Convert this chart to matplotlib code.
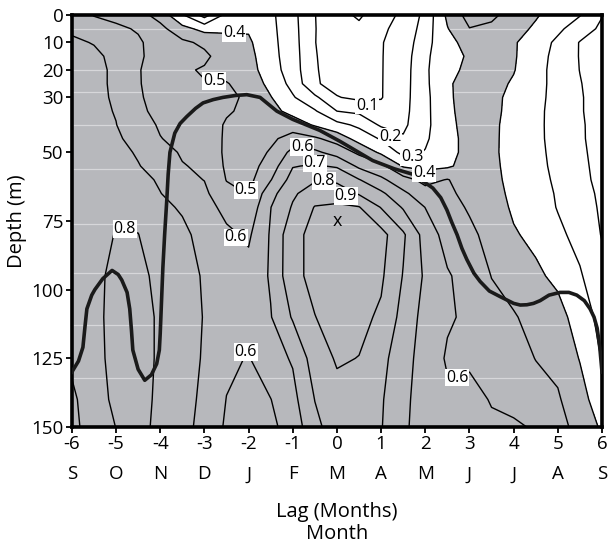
import numpy as np
import matplotlib.pyplot as plt

# lag (months) columns and depth (m) rows of the correlation grid
lags = np.arange(-6, 6.5, 0.5)
depths = [0, 5, 10, 15, 20, 25, 30, 35, 40, 45, 50, 55, 60, 65, 70, 80, 95, 110, 125, 140, 150]

# one depth profile per lag
corr_by_lag = [
    [0.66, 0.69, 0.71, 0.72, 0.73, 0.735, 0.74, 0.745, 0.75, 0.75, 0.755, 0.755, 0.76, 0.765, 0.77, 0.775, 0.78, 0.785, 0.79, 0.81, 0.82],
    [0.595, 0.65, 0.697, 0.712, 0.715, 0.715, 0.72, 0.725, 0.73, 0.735, 0.74, 0.745, 0.75, 0.76, 0.765, 0.775, 0.78, 0.78, 0.775, 0.77, 0.765],
    [0.57, 0.62, 0.665, 0.685, 0.69, 0.69, 0.69, 0.695, 0.702, 0.715, 0.73, 0.745, 0.755, 0.77, 0.78, 0.803, 0.82, 0.825, 0.825, 0.815, 0.801],
    [0.54, 0.59, 0.615, 0.615, 0.605, 0.605, 0.608, 0.615, 0.64, 0.665, 0.69, 0.705, 0.725, 0.75, 0.77, 0.802, 0.83, 0.84, 0.84, 0.835, 0.83],
    [0.46, 0.53, 0.55, 0.56, 0.565, 0.57, 0.575, 0.58, 0.59, 0.603, 0.635, 0.66, 0.69, 0.702, 0.72, 0.745, 0.77, 0.785, 0.785, 0.78, 0.775],
    [0.31, 0.43, 0.52, 0.53, 0.515, 0.525, 0.54, 0.55, 0.565, 0.575, 0.59, 0.605, 0.625, 0.665, 0.69, 0.72, 0.74, 0.75, 0.745, 0.735, 0.725],
    [0.16, 0.37, 0.48, 0.52, 0.49, 0.505, 0.525, 0.54, 0.55, 0.56, 0.575, 0.585, 0.598, 0.62, 0.64, 0.67, 0.69, 0.695, 0.69, 0.68, 0.675],
    [0.33, 0.385, 0.43, 0.45, 0.47, 0.505, 0.52, 0.51, 0.49, 0.485, 0.48, 0.485, 0.497, 0.525, 0.57, 0.62, 0.655, 0.66, 0.618, 0.598, 0.585],
    [0.36, 0.39, 0.415, 0.43, 0.44, 0.465, 0.485, 0.48, 0.465, 0.455, 0.45, 0.455, 0.47, 0.497, 0.53, 0.585, 0.635, 0.625, 0.595, 0.565, 0.555],
    [0.32, 0.325, 0.33, 0.335, 0.345, 0.37, 0.405, 0.43, 0.455, 0.48, 0.51, 0.55, 0.595, 0.665, 0.698, 0.71, 0.71, 0.695, 0.66, 0.598, 0.58],
    [0.23, 0.235, 0.24, 0.245, 0.25, 0.27, 0.31, 0.37, 0.45, 0.54, 0.63, 0.695, 0.74, 0.785, 0.81, 0.87, 0.875, 0.81, 0.71, 0.67, 0.64],
    [0.102, 0.103, 0.102, 0.105, 0.107, 0.11, 0.22, 0.31, 0.39, 0.515, 0.62, 0.71, 0.79, 0.85, 0.905, 0.93, 0.925, 0.898, 0.85, 0.802, 0.775],
    [0.045, 0.05, 0.055, 0.06, 0.065, 0.07, 0.105, 0.2, 0.33, 0.46, 0.56, 0.69, 0.78, 0.86, 0.915, 0.95, 0.945, 0.935, 0.91, 0.87, 0.85],
    [-0.02, 0.03, 0.045, 0.05, 0.055, 0.06, 0.08, 0.18, 0.28, 0.36, 0.48, 0.58, 0.705, 0.79, 0.905, 0.945, 0.94, 0.925, 0.898, 0.87, 0.86],
    [0.08, 0.09, 0.095, 0.095, 0.095, 0.095, 0.095, 0.13, 0.185, 0.29, 0.38, 0.53, 0.62, 0.72, 0.795, 0.935, 0.915, 0.885, 0.83, 0.81, 0.805],
    [0.11, 0.12, 0.14, 0.15, 0.155, 0.16, 0.165, 0.17, 0.18, 0.21, 0.27, 0.39, 0.54, 0.62, 0.69, 0.815, 0.795, 0.765, 0.74, 0.725, 0.72],
    [0.23, 0.25, 0.265, 0.28, 0.285, 0.28, 0.275, 0.275, 0.275, 0.285, 0.305, 0.37, 0.47, 0.54, 0.598, 0.66, 0.685, 0.665, 0.655, 0.65, 0.645],
    [0.42, 0.395, 0.375, 0.37, 0.375, 0.39, 0.385, 0.38, 0.375, 0.37, 0.37, 0.385, 0.505, 0.52, 0.535, 0.56, 0.61, 0.61, 0.59, 0.615, 0.625],
    [0.54, 0.497, 0.43, 0.41, 0.42, 0.43, 0.44, 0.44, 0.435, 0.43, 0.43, 0.44, 0.45, 0.47, 0.49, 0.52, 0.56, 0.585, 0.595, 0.61, 0.615],
    [0.52, 0.48, 0.45, 0.44, 0.435, 0.43, 0.425, 0.425, 0.42, 0.42, 0.42, 0.425, 0.43, 0.44, 0.45, 0.47, 0.498, 0.53, 0.565, 0.598, 0.605],
    [0.46, 0.435, 0.41, 0.41, 0.405, 0.39, 0.375, 0.37, 0.365, 0.362, 0.36, 0.362, 0.368, 0.375, 0.385, 0.41, 0.45, 0.51, 0.55, 0.58, 0.61],
    [0.41, 0.385, 0.35, 0.34, 0.335, 0.335, 0.33, 0.325, 0.325, 0.325, 0.33, 0.335, 0.34, 0.345, 0.35, 0.375, 0.42, 0.46, 0.497, 0.55, 0.593],
    [0.355, 0.32, 0.28, 0.27, 0.265, 0.265, 0.265, 0.262, 0.26, 0.262, 0.265, 0.27, 0.28, 0.29, 0.295, 0.32, 0.375, 0.44, 0.475, 0.51, 0.53],
    [0.305, 0.25, 0.195, 0.195, 0.198, 0.205, 0.21, 0.21, 0.215, 0.215, 0.22, 0.225, 0.23, 0.24, 0.25, 0.27, 0.31, 0.35, 0.395, 0.44, 0.47],
    [0.205, 0.18, 0.16, 0.155, 0.15, 0.15, 0.15, 0.15, 0.152, 0.155, 0.16, 0.165, 0.17, 0.18, 0.185, 0.195, 0.23, 0.27, 0.295, 0.34, 0.385],
]
corr = np.array(corr_by_lag).T

# thick line (mixed layer depth)
mld_lag = [-6, -5.85, -5.75, -5.7, -5.66, -5.55, -5.48, -5.3, -5.09, -4.95, -4.87, -4.75, -4.69,
           -4.65, -4.62, -4.5, -4.35, -4.2, -4.08, -4.02, -4.0, -3.97, -3.94, -3.9, -3.85, -3.82,
           -3.78, -3.67, -3.55, -3.4, -3.2, -3.03, -2.8, -2.58, -2.3, -2.04, -1.74, -1.55, -1.36,
           -1.0, -0.39, 0.07, 0.81, 1.3, 1.72, 2.17, 2.35, 2.49, 2.6, 2.72, 2.83, 2.94, 3.1, 3.24,
           3.45, 3.69, 4.0, 4.15, 4.3, 4.45, 4.6, 4.8, 5.05, 5.25, 5.43, 5.6, 5.73, 5.82, 5.89,
           5.95, 6.0]
mld_depth = [130, 126, 121, 113, 107, 102, 100, 96, 93, 94.5, 96.5, 101, 107,
             115, 122, 129, 133, 131, 127, 122, 116, 104, 92, 80, 67, 58,
             50, 43, 39.5, 37, 34, 32, 30.8, 30, 29.3, 29, 30, 32.5, 35,
             38, 42, 46, 53, 56, 58, 63, 66.5, 71, 75.5, 80, 85, 89, 94, 97,
             100.5, 102.5, 105, 105.6, 105.5, 105, 104, 102, 101, 101, 102, 104, 107, 110, 114,
             121, 130]

sample_depths = [5, 20, 28, 40, 56, 76, 94, 113, 132]
levels = [0.0, 0.1, 0.2, 0.3, 0.4, 0.5, 0.6, 0.7, 0.8, 0.9]
depth_ticks = [0, 10, 20, 30, 50, 75, 100, 125, 150]
lag_ticks = list(range(-6, 7))
months = ['S', 'O', 'N', 'D', 'J', 'F', 'M', 'A', 'M', 'J', 'J', 'A', 'S']

# where the contour labels sit: (level, lag, depth)
label_spots = [(0.1, 0.68, 33), (0.2, 1.2, 44.4), (0.3, 1.7, 51.7), (0.4, -2.33, 6.5),
               (0.4, 1.97, 57.5), (0.5, -2.78, 24), (0.5, -2.06, 63.7), (0.6, -0.79, 48),
               (0.6, -2.29, 81), (0.6, -2.06, 122.7), (0.6, 2.72, 132), (0.7, -0.5, 54),
               (0.8, -0.3, 60.4), (0.8, -4.8, 78), (0.9, 0.2, 66)]

plt.rcParams['font.family'] = ['Open Sans', 'DejaVu Sans']

fig = plt.figure(figsize=(6.09, 5.46), dpi=100)
ax = fig.add_axes([0.118, 0.218, 0.8705, 0.7545])

ax.contourf(lags, depths, corr, levels=[0.4, 2.0], colors=['#b7b8bc'], zorder=1)
for d in sample_depths:
    ax.axhline(d, color='white', alpha=0.45, lw=0.9, zorder=1.5)
cs = ax.contour(lags, depths, corr, levels=levels, colors='black', linewidths=1.0, zorder=2)

for lev, x, y in label_spots:
    ax.text(x, y, f'{lev:.1f}', ha='center', va='center', fontsize=11.5, zorder=5,
            bbox=dict(boxstyle='square,pad=0.05', fc='white', ec='none'))

ax.plot(mld_lag, mld_depth, color='#1a1a1a', lw=2.6, solid_joinstyle='round', zorder=4)
ax.text(0, 75, 'x', ha='center', va='center', fontsize=13, zorder=5)

ax.set_xlim(-6, 6)
ax.set_ylim(150, 0)
ax.set_yticks(depth_ticks)
ax.set_yticklabels([str(d) for d in depth_ticks], fontsize=13.5)
ax.set_xticks(lag_ticks)
ax.set_xticklabels([f'{l}\n{m}' for l, m in zip(lag_ticks, months)], fontsize=13.5, linespacing=1.87)
ax.tick_params(direction='out', length=4, width=1.3, pad=2)
for s in ax.spines.values():
    s.set_linewidth(2.6)

ax.set_ylabel('Depth (m)', fontsize=14.5, labelpad=3)
ax.set_xlabel('Lag (Months)\nMonth', fontsize=14.5, linespacing=1.18, labelpad=13)

fig.savefig('out.png', dpi=100)
